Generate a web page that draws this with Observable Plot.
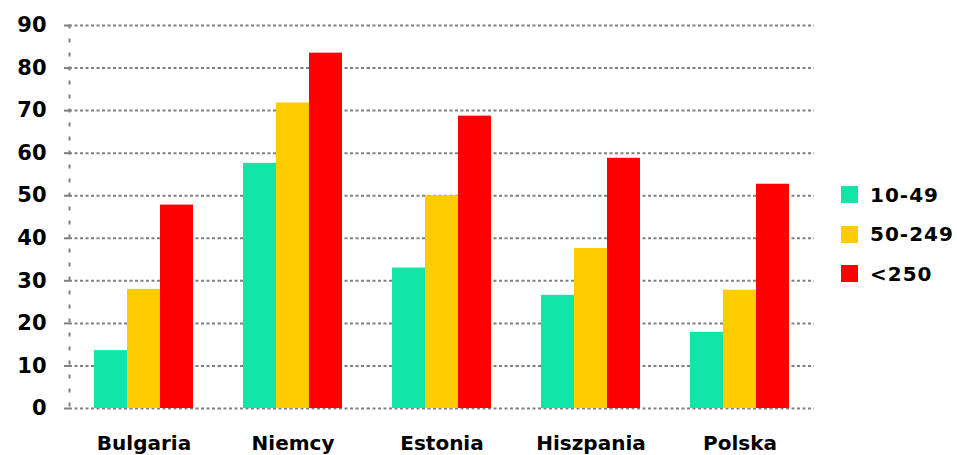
<!DOCTYPE html>
<html>
<head>
<meta charset="utf-8">
<script src="https://cdn.jsdelivr.net/npm/d3@7"></script>
<script src="https://cdn.jsdelivr.net/npm/@observablehq/plot@0.6"></script>
<style>
  html, body { margin: 0; padding: 0; background: #fff; }
  #wrap { position: relative; width: 957px; height: 455px; font-family: "DejaVu Sans", sans-serif; font-weight: bold; }
  #legend { position: absolute; left: 841px; top: 175px; }
  .item { display: flex; align-items: center; height: 39.5px; font-size: 20px; letter-spacing: 1px; }
  .sw { width: 17px; height: 17px; margin-right: 12px; }
</style>
</head>
<body>
<div id="wrap"></div>
<script>
const categories = ["Bulgaria", "Niemcy", "Estonia", "Hiszpania", "Polska"];
const series = ["10-49", "50-249", "<250"];
const colors = ["#12E6A6", "#FFCC00", "#FF0000"];
const values10_49 = [13.6, 57.6, 33.0, 26.6, 17.9];
const values50_249 = [28.0, 71.8, 50.0, 37.6, 27.8];
const values250 = [47.8, 83.5, 68.7, 58.8, 52.7];
const yTicks = [0, 10, 20, 30, 40, 50, 60, 70, 80, 90];

const seriesValues = [values10_49, values50_249, values250];
const data = [];
categories.forEach((c, i) => {
  series.forEach((s, j) => data.push({category: c, series: s, value: seriesValues[j][i]}));
});

const chart = Plot.plot({
  width: 957,
  height: 455,
  marginLeft: 68,
  marginRight: 142,
  marginTop: 25,
  marginBottom: 47,
  style: {fontFamily: "DejaVu Sans, sans-serif", fontWeight: "bold", fontSize: "19px", color: "#000", background: "#fff"},
  fx: {domain: categories, padding: 0, label: null, axis: null},
  x: {domain: series, paddingInner: 0, paddingOuter: 0.705, axis: null},
  y: {domain: [0, 90], label: null},
  color: {domain: series, range: colors},
  marks: [
    Plot.gridY(yTicks, {stroke: "#808080", strokeOpacity: 1, strokeWidth: 2, strokeDasharray: "3,2.5"}),
    Plot.barY(data, {fx: "category", x: "series", y: "value", fill: "series"}),
    Plot.axisY(yTicks, {tickSize: 5, tickPadding: 18, stroke: "#808080", strokeWidth: 2, fontSize: 21, letterSpacing: 3}),
    Plot.axisFx({anchor: "bottom", tickSize: 0, tickPadding: 27, fontSize: 20, label: null}),
    Plot.frame({anchor: "left", facetAnchor: "left", stroke: "#808080", strokeWidth: 2, strokeDasharray: "2,12"})
  ]
});
document.getElementById("wrap").appendChild(chart);

const legend = document.createElement("div");
legend.id = "legend";
series.forEach((s, j) => {
  const item = document.createElement("div");
  item.className = "item";
  const sw = document.createElement("div");
  sw.className = "sw";
  sw.style.background = colors[j];
  const t = document.createElement("span");
  t.textContent = s;
  item.appendChild(sw);
  item.appendChild(t);
  legend.appendChild(item);
});
document.getElementById("wrap").appendChild(legend);
</script>
</body>
</html>
